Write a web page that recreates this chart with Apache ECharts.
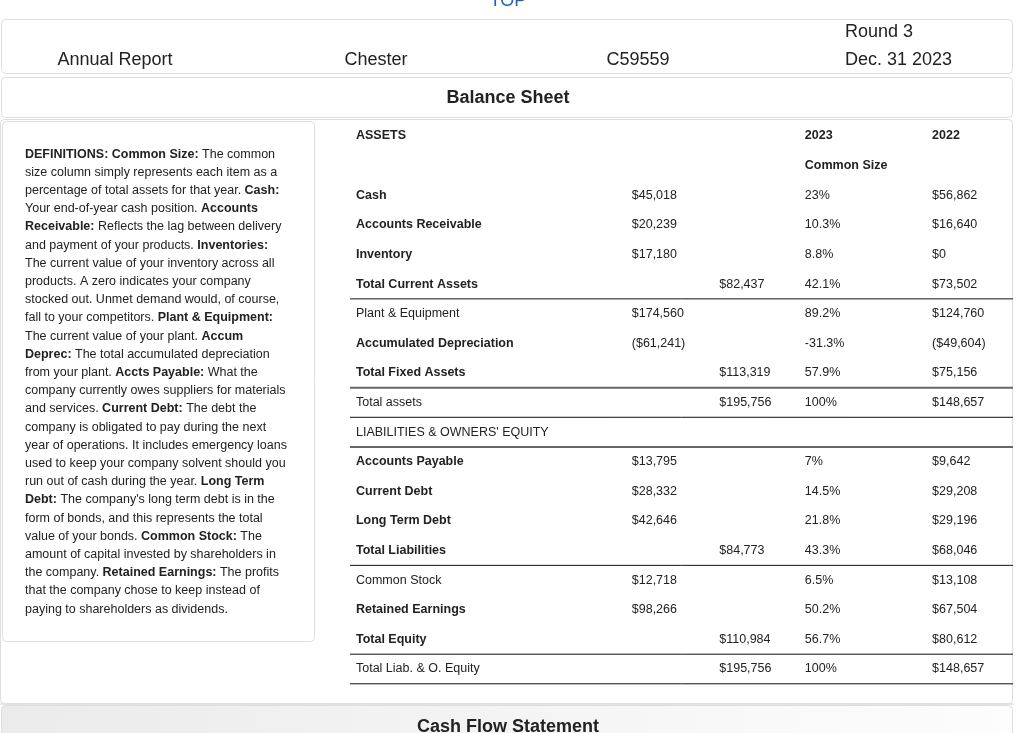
<!DOCTYPE html>
<html>
<head>
<meta charset="utf-8">
<script src="https://cdn.jsdelivr.net/npm/echarts@6/dist/echarts.min.js"></script>
<style>
  body { margin: 0; background: #fff; }
  #main { width: 1024px; height: 733px; }
</style>
</head>
<body>
<div id="main"></div>
<script>
  // 表格数据
  const rowLabels = ['ASSETS', '', 'Cash', 'Accounts Receivable', 'Inventory', 'Total Current Assets',
    'Plant & Equipment', 'Accumulated Depreciation', 'Total Fixed Assets', 'Total assets',
    "LIABILITIES & OWNERS' EQUITY", 'Accounts Payable', 'Current Debt', 'Long Term Debt',
    'Total Liabilities', 'Common Stock', 'Retained Earnings', 'Total Equity', 'Total Liab. & O. Equity'];
  const boldRows = [0, 2, 3, 4, 5, 7, 8, 11, 12, 13, 14, 16, 17];
  const items2023 = [null, null, 45018, 20239, 17180, null, 174560, -61241, null, null,
    null, 13795, 28332, 42646, null, 12718, 98266, null, null];
  const totals2023 = [null, null, null, null, null, 82437, null, null, 113319, 195756,
    null, null, null, null, 84773, null, null, 110984, 195756];
  const commonSize = [null, null, 23, 10.3, 8.8, 42.1, 89.2, -31.3, 57.9, 100,
    null, 7, 14.5, 21.8, 43.3, 6.5, 50.2, 56.7, 100];
  const values2022 = [null, null, 56862, 16640, 0, 73502, 124760, -49604, 75156, 148657,
    null, 9642, 29208, 29196, 68046, 13108, 67504, 80612, 148657];
  const yearHeaders = ['2023', '2022'];
  const commonSizeHeader = 'Common Size';
  // 分隔线（行号之后）
  const thinRules = [5, 9, 14, 17, 18];
  const thickRules = [8, 10];

  const defLines = [
    '{b|DEFINITIONS: Common Size:} The common',
    'size column simply represents each item as a',
    'percentage of total assets for that year. {b|Cash:}',
    'Your end-of-year cash position. {b|Accounts}',
    '{b|Receivable:} Reflects the lag between delivery',
    'and payment of your products. {b|Inventories:}',
    'The current value of your inventory across all',
    'products. A zero indicates your company',
    'stocked out. Unmet demand would, of course,',
    'fall to your competitors. {b|Plant & Equipment:}',
    'The current value of your plant. {b|Accum}',
    '{b|Deprec:} The total accumulated depreciation',
    'from your plant. {b|Accts Payable:} What the',
    'company currently owes suppliers for materials',
    'and services. {b|Current Debt:} The debt the',
    'company is obligated to pay during the next',
    'year of operations. It includes emergency loans',
    'used to keep your company solvent should you',
    'run out of cash during the year. {b|Long Term}',
    "{b|Debt:} The company's long term debt is in the",
    'form of bonds, and this represents the total',
    'value of your bonds. {b|Common Stock:} The',
    'amount of capital invested by shareholders in',
    'the company. {b|Retained Earnings:} The profits',
    'that the company chose to keep instead of',
    'paying to shareholders as dividends.'
  ];

  const FONT = '"Liberation Sans", Arial, Helvetica, sans-serif';
  // 列位置（相对表格宽度）
  const colPos = [0.009, 0.425, 0.557, 0.686, 0.878];

  function money(v) {
    const s = '$' + Math.abs(v).toLocaleString('en-US');
    return v < 0 ? '(' + s + ')' : s;
  }

  // 组装单元格
  const cells = [];
  rowLabels.forEach(function (label, i) {
    if (label) cells.push([colPos[0], i, label, boldRows.indexOf(i) >= 0]);
    if (items2023[i] !== null) cells.push([colPos[1], i, money(items2023[i]), false]);
    if (totals2023[i] !== null) cells.push([colPos[2], i, money(totals2023[i]), false]);
    if (commonSize[i] !== null) cells.push([colPos[3], i, commonSize[i] + '%', false]);
    if (values2022[i] !== null) cells.push([colPos[4], i, money(values2022[i]), false]);
  });
  cells.push([colPos[3], 0, yearHeaders[0], true]);
  cells.push([colPos[4], 0, yearHeaders[1], true]);
  cells.push([colPos[3], 1, commonSizeHeader, true]);

  const rules = thinRules.map(function (r) { return [0, r, 0]; })
    .concat(thickRules.map(function (r) { return [0, r, 1]; }));

  let myChart = echarts.init(document.getElementById('main'), null, {renderer: 'canvas'});

  const panel = function (x, y, w, h, fill) {
    return {
      type: 'rect',
      shape: {x: x, y: y, width: w, height: h, r: 4},
      style: {fill: fill || '#fff', stroke: '#dedede', lineWidth: 1}
    };
  };

  myChart.setOption({
    backgroundColor: '#fff',
    animation: false,
    grid: {left: 350, right: 11, top: 121.2, bottom: 49.2},
    xAxis: {type: 'value', min: 0, max: 1, show: false},
    yAxis: {type: 'category', data: rowLabels, inverse: true, show: false},
    graphic: [
      {
        type: 'text', x: 508, y: 1,
        style: {text: 'TOP', font: '18px ' + FONT, fill: '#2461b8', align: 'center', verticalAlign: 'middle'}
      },
      panel(1.5, 19.5, 1011, 54),
      panel(1.5, 77.5, 1011, 40),
      panel(0.5, 119.5, 1012, 584),
      panel(2.5, 121.5, 312, 520),
      {
        type: 'rect',
        shape: {x: 0.5, y: 703, width: 1013, height: 2},
        style: {fill: '#e2e2e2'}
      },
      {
        type: 'rect',
        shape: {x: 1.5, y: 705.5, width: 1011, height: 60, r: 4},
        style: {
          fill: new echarts.graphic.LinearGradient(0, 0, 1, 0.4, [
            {offset: 0, color: '#ebebeb'},
            {offset: 0.55, color: '#f5f5f5'},
            {offset: 1, color: '#fdfdfd'}
          ]),
          stroke: '#dedede', lineWidth: 1
        }
      },
      {
        type: 'text', x: 115, y: 60,
        style: {text: 'Annual Report', font: '18px ' + FONT, fill: '#222', align: 'center', verticalAlign: 'middle'}
      },
      {
        type: 'text', x: 376, y: 60,
        style: {text: 'Chester', font: '18px ' + FONT, fill: '#222', align: 'center', verticalAlign: 'middle'}
      },
      {
        type: 'text', x: 638, y: 60,
        style: {text: 'C59559', font: '18px ' + FONT, fill: '#222', align: 'center', verticalAlign: 'middle'}
      },
      {
        type: 'text', x: 845, y: 32,
        style: {text: 'Round 3', font: '18px ' + FONT, fill: '#222', align: 'left', verticalAlign: 'middle'}
      },
      {
        type: 'text', x: 845, y: 60,
        style: {text: 'Dec. 31 2023', font: '18px ' + FONT, fill: '#222', align: 'left', verticalAlign: 'middle'}
      },
      {
        type: 'text', x: 508, y: 98,
        style: {text: 'Balance Sheet', font: 'bold 18px ' + FONT, fill: '#222', align: 'center', verticalAlign: 'middle'}
      },
      {
        type: 'text', x: 508, y: 727,
        style: {text: 'Cash Flow Statement', font: 'bold 18px ' + FONT, fill: '#222', align: 'center', verticalAlign: 'middle'}
      },
      {
        type: 'text', x: 25, y: 145,
        style: {
          text: defLines.join('\n'),
          fontFamily: FONT,
          fontSize: 12.5,
          lineHeight: 18.2,
          fill: '#222',
          rich: {
            b: {fontFamily: FONT, fontSize: 12.5, fontWeight: 'bold', lineHeight: 18.2, fill: '#222'}
          }
        }
      }
    ],
    series: [
      {
        type: 'custom',
        name: 'rules',
        data: rules,
        encode: {x: 0, y: 1},
        renderItem: function (params, api) {
          const r = rules[params.dataIndex];
          const cs = params.coordSys;
          const y = api.coord([0, r[1]])[1] + api.size([0, 1])[1] / 2;
          const thick = r[2] === 1;
          return {
            type: 'line',
            shape: {x1: cs.x, y1: y, x2: cs.x + cs.width, y2: y},
            style: {stroke: thick ? '#666' : '#111', lineWidth: thick ? 2 : 1}
          };
        }
      },
      {
        type: 'custom',
        name: 'cells',
        data: cells.map(function (c) { return [c[0], c[1]]; }),
        encode: {x: 0, y: 1},
        renderItem: function (params, api) {
          const c = cells[params.dataIndex];
          const p = api.coord([c[0], c[1]]);
          return {
            type: 'text',
            x: p[0],
            y: p[1],
            style: {
              text: c[2],
              font: (c[3] ? 'bold ' : '') + '12.5px ' + FONT,
              fill: '#222',
              align: 'left',
              verticalAlign: 'middle'
            }
          };
        }
      }
    ]
  });
</script>
</body>
</html>
